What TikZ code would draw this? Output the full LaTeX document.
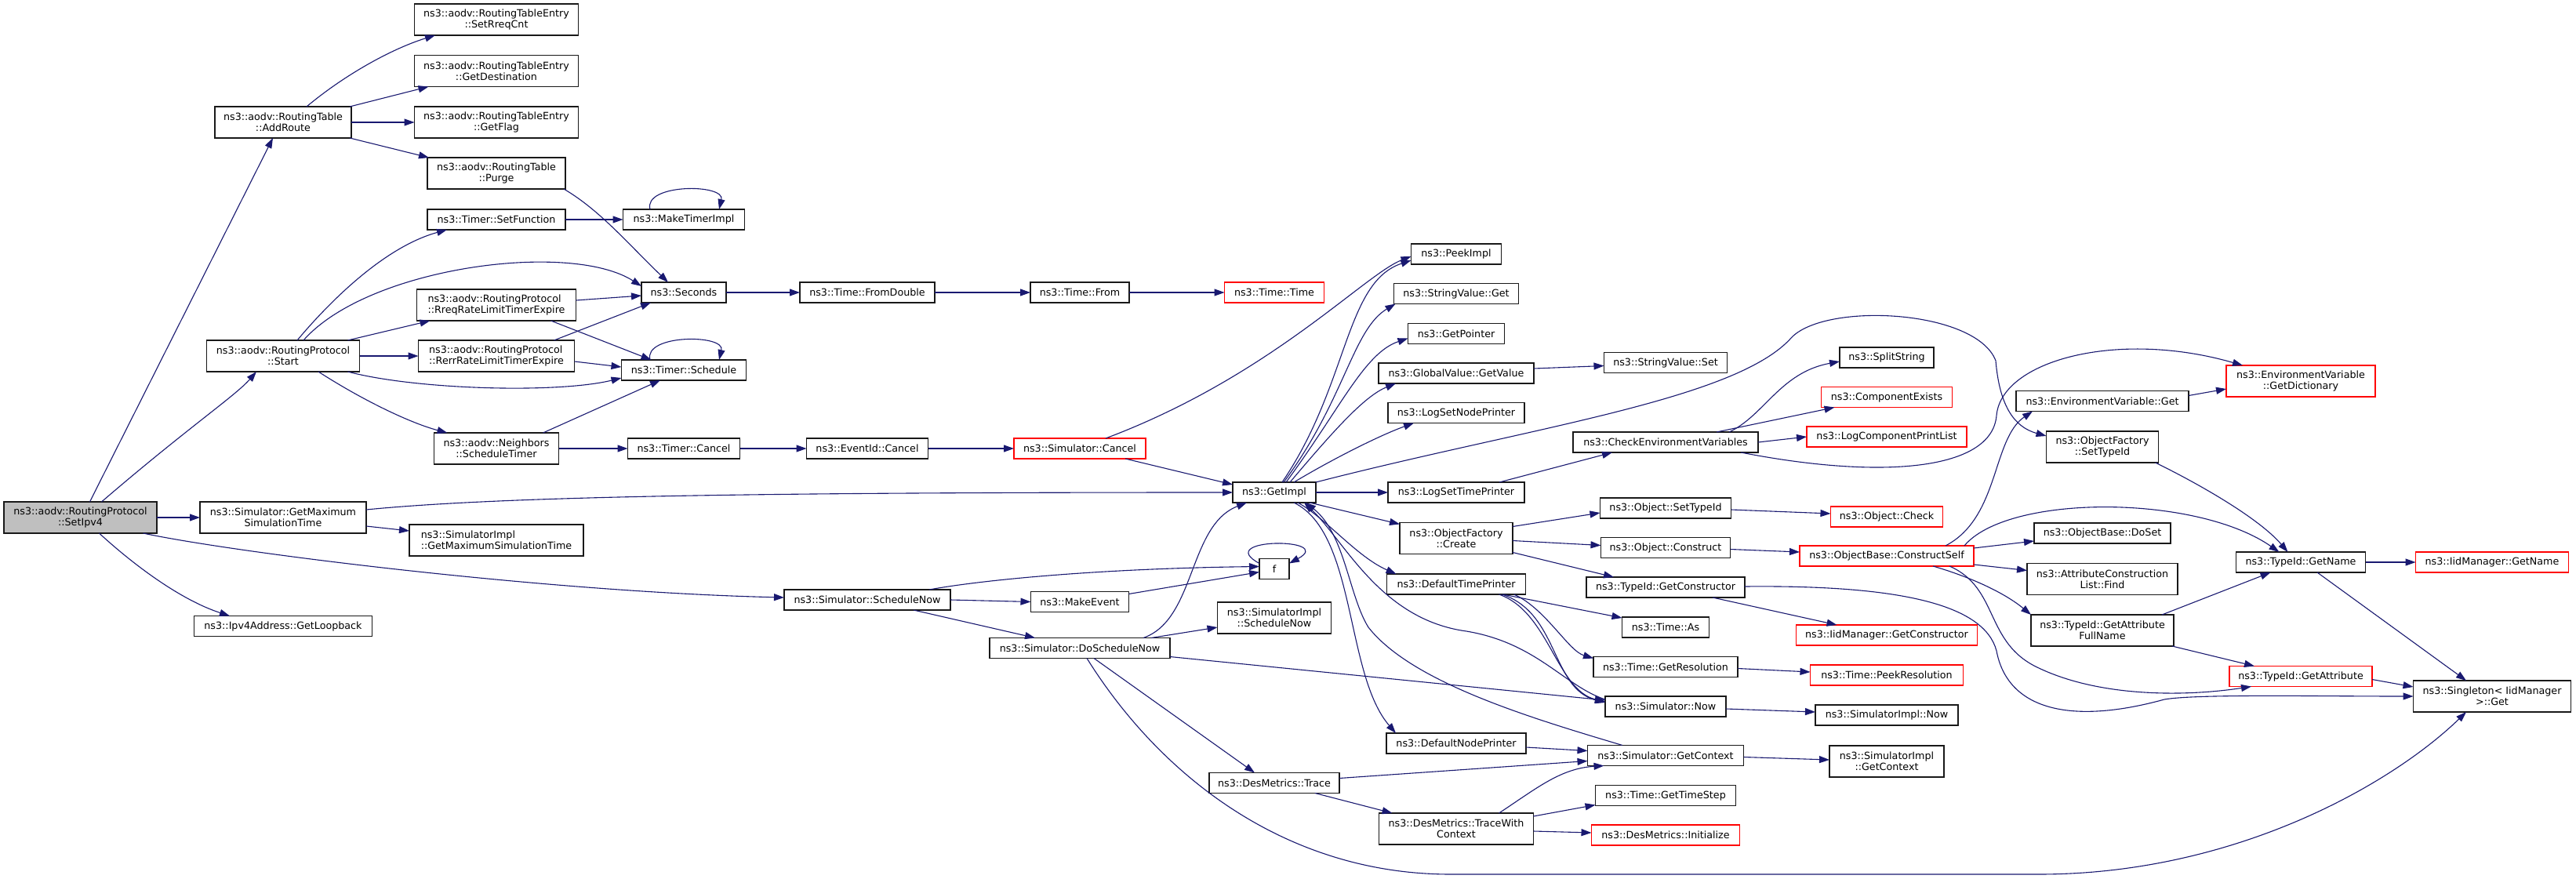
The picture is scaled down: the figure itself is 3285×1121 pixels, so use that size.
\documentclass[tikz,border=0pt]{standalone}
\usepackage{fontspec}
\setmainfont{DejaVu Sans}
\usetikzlibrary{positioning,calc,arrows.meta}
\definecolor{edgeblue}{HTML}{191970}
\definecolor{nodegray}{HTML}{BFBFBF}

\begin{document}
\begin{tikzpicture}[x=1pt,y=-1pt,
  fn/.style = {shape=rectangle, draw=black!90, fill=white, line width=1.5pt,
    align=center, inner xsep=4pt, inner ysep=2pt, outer sep=0pt,
    minimum height=26pt, font=\fontsize{12.7}{14.3}\selectfont},
  two/.style = {minimum height=40pt},
  miss/.style = {fn, draw=red},
  cur/.style = {fn, fill=nodegray},
  call/.style = {draw=edgeblue, line width=1.1pt, -{Triangle[length=13pt,width=9pt]}}
  ]
  \useasboundingbox (0,0) rectangle (3285,1121);

  \node[cur, two, minimum width=195pt] (setipv4) at (102.5,660) {ns3::aodv::RoutingProtocol\\::SetIpv4};

  \node[fn, two, minimum width=174pt] (addroute) at (361,156) {ns3::aodv::RoutingTable\\::AddRoute};
  \node[fn, two, minimum width=195pt] (start) at (361,454) {ns3::aodv::RoutingProtocol\\::Start};
  \node[fn, two, minimum width=212pt] (gmst) at (361,660) {ns3::Simulator::GetMaximum\\SimulationTime};
  \node[fn, minimum width=227pt] (loopback) at (361,798.5) {ns3::Ipv4Address::GetLoopback};

  \node[fn, two, minimum width=209pt] (setrreq) at (633,25) {ns3::aodv::RoutingTableEntry\\::SetRreqCnt};
  \node[fn, two, minimum width=209pt] (getdest) at (633,90.5) {ns3::aodv::RoutingTableEntry\\::GetDestination};
  \node[fn, two, minimum width=209pt] (getflag) at (633,156) {ns3::aodv::RoutingTableEntry\\::GetFlag};
  \node[fn, two, minimum width=176pt] (purge) at (633,221) {ns3::aodv::RoutingTable\\::Purge};
  \node[fn, minimum width=176pt] (setfunc) at (633,280) {ns3::Timer::SetFunction};
  \node[fn, two, align=left, minimum width=203pt] (rreq) at (633,389) {ns3::aodv::RoutingProtocol\\::RreqRateLimitTimerExpire};
  \node[fn, two, align=left, minimum width=199pt] (rerr) at (633,454) {ns3::aodv::RoutingProtocol\\::RerrRateLimitTimerExpire};
  \node[fn, two, minimum width=159pt] (schedtimer) at (633,572) {ns3::aodv::Neighbors\\::ScheduleTimer};
  \node[fn, two, align=left, minimum width=222pt] (implgmst) at (633,689) {ns3::SimulatorImpl\\::GetMaximumSimulationTime};

  \node[fn, minimum width=155pt] (maketimer) at (872,280) {ns3::MakeTimerImpl};
  \node[fn, minimum width=108pt] (seconds) at (872,373) {ns3::Seconds};
  \node[fn, minimum width=159pt] (schedule) at (872,472) {ns3::Timer::Schedule};
  \node[fn, minimum width=143pt] (timercancel) at (872,572) {ns3::Timer::Cancel};

  \node[fn, minimum width=172pt] (fromdouble) at (1106,373) {ns3::Time::FromDouble};
  \node[fn, minimum width=155pt] (eventcancel) at (1106,572) {ns3::EventId::Cancel};
  \node[fn, minimum width=212pt] (schednow) at (1106,765) {ns3::Simulator::ScheduleNow};

  \node[fn, minimum width=126pt] (timefrom) at (1377,373) {ns3::Time::From};
  \node[miss, minimum width=168pt] (simcancel) at (1377,572) {ns3::Simulator::Cancel};
  \node[fn, minimum width=125pt] (makeevent) at (1377,767.5) {ns3::MakeEvent};
  \node[fn, minimum width=230pt] (doschednow) at (1377,826.5) {ns3::Simulator::DoScheduleNow};

  \node[miss, minimum width=127pt] (timetime) at (1625,373) {ns3::Time::Time};
  \node[fn, minimum width=106pt] (getimpl) at (1625,628) {ns3::GetImpl};
  \node[fn, minimum width=38pt] (f) at (1625,725.5) {f};
  \node[fn, two, minimum width=145pt] (implschednow) at (1625,788) {ns3::SimulatorImpl\\::ScheduleNow};
  \node[fn, minimum width=166pt] (trace) at (1625,998.5) {ns3::DesMetrics::Trace};

  \node[fn, minimum width=115pt] (peekimpl) at (1857,324) {ns3::PeekImpl};
  \node[fn, minimum width=159pt] (svget) at (1857,374.5) {ns3::StringValue::Get};
  \node[fn, minimum width=123pt] (getpointer) at (1857,425.5) {ns3::GetPointer};
  \node[fn, minimum width=198pt] (gvgetvalue) at (1857,476) {ns3::GlobalValue::GetValue};
  \node[fn, minimum width=174pt] (setnodepr) at (1857,526.5) {ns3::LogSetNodePrinter};
  \node[fn, minimum width=174pt] (settimepr) at (1857,628) {ns3::LogSetTimePrinter};
  \node[fn, two, minimum width=144pt] (ofcreate) at (1857,686.5) {ns3::ObjectFactory\\::Create};
  \node[fn, minimum width=177pt] (deftimepr) at (1857,745) {ns3::DefaultTimePrinter};
  \node[fn, minimum width=178pt] (defnodepr) at (1857,948) {ns3::DefaultNodePrinter};
  \node[fn, two, minimum width=197pt] (tracectx) at (1857,1057) {ns3::DesMetrics::TraceWith\\Context};

  \node[fn, minimum width=157pt] (svset) at (2124,462.5) {ns3::StringValue::Set};
  \node[fn, minimum width=236pt] (checkenv) at (2124,564) {ns3::CheckEnvironmentVariables};
  \node[fn, minimum width=167pt] (objsettid) at (2124,648) {ns3::Object::SetTypeId};
  \node[fn, minimum width=165pt] (objconstruct) at (2124,698.5) {ns3::Object::Construct};
  \node[fn, minimum width=202pt] (getctor) at (2124,749) {ns3::TypeId::GetConstructor};
  \node[fn, minimum width=111pt] (timeas) at (2124,800) {ns3::Time::As};
  \node[fn, minimum width=184pt] (getres) at (2124,850.5) {ns3::Time::GetResolution};
  \node[fn, minimum width=154pt] (simnow) at (2124,901) {ns3::Simulator::Now};
  \node[fn, minimum width=199pt] (simgetctx) at (2124,963.5) {ns3::Simulator::GetContext};
  \node[fn, minimum width=179pt] (timestep) at (2124,1014.5) {ns3::Time::GetTimeStep};
  \node[miss, minimum width=189pt] (dminit) at (2124,1065) {ns3::DesMetrics::Initialize};

  \node[fn, minimum width=120pt] (splitstr) at (2406,456) {ns3::SplitString};
  \node[miss, minimum width=167pt] (compexists) at (2406,506.5) {ns3::ComponentExists};
  \node[miss, minimum width=204pt] (logcomplist) at (2406,557) {ns3::LogComponentPrintList};
  \node[miss, minimum width=143pt] (objcheck) at (2406,659) {ns3::Object::Check};
  \node[miss, minimum width=222pt] (constructself) at (2406,709) {ns3::ObjectBase::ConstructSelf};
  \node[miss, minimum width=231pt] (iidgetctor) at (2406,810) {ns3::IidManager::GetConstructor};
  \node[miss, minimum width=195pt] (peekres) at (2406,861) {ns3::Time::PeekResolution};
  \node[fn, minimum width=182pt] (implnow) at (2406,912) {ns3::SimulatorImpl::Now};
  \node[fn, two, minimum width=146pt] (implgetctx) at (2406,971) {ns3::SimulatorImpl\\::GetContext};

  \node[fn, minimum width=220pt] (envget) at (2681,511.5) {ns3::EnvironmentVariable::Get};
  \node[fn, two, minimum width=143pt] (ofsettid) at (2681,570) {ns3::ObjectFactory\\::SetTypeId};
  \node[fn, minimum width=174pt] (doset) at (2681,680) {ns3::ObjectBase::DoSet};
  \node[fn, two, minimum width=192pt] (attrfind) at (2681,738.5) {ns3::AttributeConstruction\\List::Find};
  \node[fn, two, minimum width=182pt] (attrfull) at (2681,804) {ns3::TypeId::GetAttribute\\FullName};

  \node[miss, two, minimum width=190pt] (getdict) at (2934,486) {ns3::EnvironmentVariable\\::GetDictionary};
  \node[fn, minimum width=165pt] (tidgetname) at (2934,717) {ns3::TypeId::GetName};
  \node[miss, minimum width=182pt] (getattr) at (2934,862.5) {ns3::TypeId::GetAttribute};

  \node[miss, minimum width=195pt] (iidgetname) at (3178,717) {ns3::IidManager::GetName};
  \node[fn, two, minimum width=201pt] (singleton) at (3178,888) {ns3::Singleton< IidManager\\>::Get};

  \draw[call] ($(setipv4.north)+(12,0)$) -- ($(addroute.south)+(-13,0)$);
  \draw[call] ($(setipv4.north)+(27,0)$) .. controls (240,545) and (300,505) .. ($(start.south)+(-34,0)$);
  \draw[call] (setipv4.east) -- (gmst.west);
  \draw[call] ($(setipv4.south)+(80,0)$) .. controls (300,705) and (700,755) .. ($(schednow.west)+(0,-3)$);
  \draw[call] ($(setipv4.south)+(24,0)$) .. controls (170,720) and (230,765) .. ($(loopback.north)+(-68,0)$);

  \draw[call] ($(addroute.north)+(30,0)$) .. controls (440,95) and (500,62) .. ($(setrreq.south)+(-78,0)$);
  \draw[call] ($(addroute.north east)+(-2,0)$) -- ($(getdest.south west)+(18,0)$);
  \draw[call] (addroute.east) -- (getflag.west);
  \draw[call] ($(addroute.south east)+(-2,0)$) -- ($(purge.north west)+(2,0)$);
  \draw[call] ($(purge.south east)+(-2,0)$) .. controls (765,268) and (800,310) .. ($(seconds.north)+(-20,0)$);
  \draw[call] (setfunc.east) -- (maketimer.west);
  \draw[call] ($(maketimer.north)+(-43,0)$) .. controls +(-9,-33) and +(8,-33) .. ($(maketimer.north)+(45,0)$);

  \draw[call] ($(start.north)+(18,0)$) .. controls (420,385) and (490,315) .. ($(setfunc.south west)+(25,0)$);
  \draw[call] ($(start.north)+(26,0)$) .. controls (470,340) and (728,307) .. ($(seconds.west)+(0,-8)$);
  \draw[call] ($(start.north east)+(-15,0)$) -- ($(rreq.south west)+(17,0)$);
  \draw[call] (start.east) -- (rerr.west);
  \draw[call] ($(start.south east)+(-15,0)$) .. controls (530,497) and (711,502) .. ($(schedule.west)+(0,10)$);
  \draw[call] ($(start.south)+(45,0)$) .. controls (465,512) and (525,540) .. ($(schedtimer.north west)+(17,0)$);
  \draw[call] ($(rreq.east)+(0,-6)$) -- ($(seconds.west)+(0,4)$);
  \draw[call] ($(rreq.south east)+(-32,0)$) -- ($(schedule.north west)+(38,0)$);
  \draw[call] ($(rerr.north east)+(-26,0)$) -- ($(seconds.south west)+(12,0)$);
  \draw[call] ($(rerr.east)+(0,7)$) -- ($(schedule.west)+(0,-4)$);
  \draw[call] ($(schedtimer.north east)+(-20,0)$) -- ($(schedule.south)+(-30,0)$);
  \draw[call] (schedtimer.east) -- (timercancel.west);
  \draw[call] ($(schedule.north)+(-43,0)$) .. controls +(-9,-33) and +(8,-33) .. ($(schedule.north)+(45,0)$);

  \draw[call] (seconds.east) -- (fromdouble.west);
  \draw[call] (fromdouble.east) -- (timefrom.west);
  \draw[call] (timefrom.east) -- (timetime.west);
  \draw[call] (timercancel.east) -- (eventcancel.west);
  \draw[call] (eventcancel.east) -- (simcancel.west);
  \draw[call] ($(simcancel.north)+(33,0)$) .. controls (1620,480) and (1740,350) .. ($(peekimpl.west)+(0,3)$);
  \draw[call] ($(simcancel.south east)+(-26,0)$) -- ($(getimpl.west)+(0,-10)$);
  \draw[call] ($(gmst.east)+(0,-10)$) .. controls (650,632) and (1000,628) .. (getimpl.west);
  \draw[call] ($(gmst.east)+(0,11)$) -- ($(implgmst.west)+(0,-12)$);

  \draw[call] ($(schednow.north)+(79,0)$) .. controls (1250,740) and (1400,725) .. ($(f.west)+(0,-3)$);
  \draw[call] (schednow.east) -- (makeevent.west);
  \draw[call] ($(schednow.south east)+(-47,0)$) -- ($(doschednow.north west)+(58,0)$);
  \draw[call] ($(makeevent.north east)+(0,3)$) -- ($(f.west)+(0,4)$);
  \draw[call] ($(f.west)+(0,-7)$) .. controls +(-61,-33) and +(61,-33) .. ($(f.east)+(0,-7)$);
  \draw[call] ($(doschednow.north east)+(-34,0)$) .. controls (1525,790) and (1515,670) .. ($(getimpl.south west)+(18,0)$);
  \draw[call] ($(doschednow.north east)+(-24,0)$) -- ($(implschednow.west)+(0,12)$);
  \draw[call] ($(doschednow.east)+(0,11)$) -- ($(simnow.west)+(0,-8)$);
  \draw[call] ($(doschednow.south)+(18,0)$) -- ($(trace.north)+(-25,0)$);
  \draw[call] ($(doschednow.south)+(9,0)$) .. controls (1480,990) and (1640,1115) .. (1850,1115)
    -- (2600,1115) .. controls (2850,1115) and (3050,1000) .. ($(singleton.south)+(-33,0)$);

  \draw[call] ($(getimpl.north)+(10,0)$) .. controls (1720,490) and (1715,360) .. ($(peekimpl.west)+(0,8)$);
  \draw[call] ($(getimpl.north)+(12,0)$) .. controls (1715,510) and (1725,420) .. ($(svget.south west)+(2,0)$);
  \draw[call] ($(getimpl.north)+(15,0)$) .. controls (1710,520) and (1740,450) .. ($(getpointer.west)+(0,6)$);
  \draw[call] ($(getimpl.north)+(20,0)$) .. controls (1700,550) and (1740,505) .. ($(gvgetvalue.south west)+(22,0)$);
  \draw[call] ($(getimpl.north)+(25,0)$) .. controls (1700,585) and (1760,555) .. ($(setnodepr.south west)+(33,0)$);
  \draw[call] (getimpl.north east) .. controls (1950,545) and (2215,510) .. (2285,430)
    .. controls (2330,385) and (2520,395) .. (2545,460)
    .. controls (2550,520) and (2570,545) .. ($(ofsettid.west)+(0,-14)$);
  \draw[call] (getimpl.east) -- (settimepr.west);
  \draw[call] ($(getimpl.south east)+(-8,0)$) -- ($(ofcreate.west)+(0,-18)$);
  \draw[call] ($(getimpl.south)+(30,0)$) .. controls (1690,660) and (1730,710) .. ($(deftimepr.north west)+(12,0)$);
  \draw[call] ($(getimpl.south)+(25,0)$) .. controls (1730,680) and (1715,860) .. ($(defnodepr.north west)+(12,0)$);
  \draw[call] ($(simnow.west)+(0,-9)$) .. controls (1995,875) and (1960,820) .. (1870,805)
    .. controls (1760,790) and (1715,690) .. ($(getimpl.south)+(38,0)$);
  \draw[call] ($(simgetctx.north)+(-55,0)$) .. controls (1950,915) and (1800,870) .. (1745,800)
    .. controls (1720,760) and (1715,680) .. ($(getimpl.south)+(40,0)$);

  \draw[call] ($(deftimepr.south east)+(-29,0)$) -- ($(timeas.west)+(0,-12)$);
  \draw[call] ($(deftimepr.south east)+(-15,0)$) .. controls (1970,775) and (2000,830) .. ($(getres.north west)+(0,2)$);
  \draw[call] ($(deftimepr.south east)+(-34,0)$) .. controls (1975,780) and (1985,880) .. ($(simnow.west)+(0,-6)$);
  \draw[call] ($(deftimepr.south east)+(-30,0)$) .. controls (1988,782) and (1978,878) .. ($(simnow.west)+(0,-5)$);
  \draw[call] ($(ofcreate.east)+(0,-15)$) -- ($(objsettid.west)+(0,6)$);
  \draw[call] ($(ofcreate.east)+(0,3)$) -- ($(objconstruct.west)+(0,-3)$);
  \draw[call] ($(ofcreate.south east)+(0,-2)$) -- ($(getctor.north west)+(35,0)$);
  \draw[call] ($(gvgetvalue.east)+(0,-6)$) -- ($(svset.west)+(0,4)$);
  \draw[call] ($(settimepr.north east)+(-32,0)$) -- ($(checkenv.south west)+(50,0)$);
  \draw[call] ($(defnodepr.east)+(0,5)$) -- ($(simgetctx.west)+(0,-6)$);
  \draw[call] ($(trace.east)+(0,-6)$) -- ($(simgetctx.west)+(0,7)$);
  \draw[call] ($(trace.south east)+(-31,0)$) -- ($(tracectx.north west)+(17,0)$);
  \draw[call] ($(tracectx.north east)+(-44,0)$) .. controls (1960,1005) and (1990,980) .. ($(simgetctx.south west)+(21,0)$);
  \draw[call] ($(tracectx.east)+(0,-16)$) -- ($(timestep.south west)+(0,-1)$);
  \draw[call] ($(tracectx.east)+(0,3)$) -- ($(dminit.west)+(0,-3)$);

  \draw[call] ($(checkenv.north east)+(-37,0)$) .. controls (2250,530) and (2270,475) .. ($(splitstr.west)+(0,5)$);
  \draw[call] ($(checkenv.north east)+(-53,0)$) -- ($(compexists.south west)+(17,0)$);
  \draw[call] (checkenv.east) -- (logcomplist.west);
  \draw[call] ($(checkenv.south east)+(-22,0)$) .. controls (2400,612) and (2540,600) .. (2546,530)
    .. controls (2552,460) and (2700,420) .. ($(getdict.north west)+(21,0)$);
  \draw[call] ($(objsettid.east)+(0,2)$) -- ($(objcheck.west)+(0,-4)$);
  \draw[call] ($(objconstruct.east)+(0,2)$) -- ($(constructself.west)+(0,-5)$);
  \draw[call] ($(getctor.south east)+(-41,0)$) -- ($(iidgetctor.north west)+(52,0)$);
  \draw[call] ($(getctor.east)+(0,-1)$) .. controls (2420,746) and (2530,770) .. (2546,830)
    .. controls (2560,905) and (2640,925) .. (2760,892)
    .. controls (2800,885) and (2950,888) .. (singleton.west);
  \draw[call] ($(getres.east)+(0,2)$) -- ($(peekres.west)+(0,-4)$);
  \draw[call] ($(simnow.east)+(0,3)$) -- ($(implnow.west)+(0,-4)$);
  \draw[call] ($(simgetctx.east)+(0,2)$) -- ($(implgetctx.west)+(0,-2)$);

  \draw[call] ($(envget.east)+(0,-7)$) -- ($(getdict.west)+(0,10)$);
  \draw[call] ($(constructself.north east)+(-36,0)$) .. controls (2550,660) and (2540,560) .. ($(envget.south west)+(21,0)$);
  \draw[call] ($(constructself.north east)+(-12,0)$) .. controls (2560,630) and (2800,630) .. ($(tidgetname.north west)+(55,0)$);
  \draw[call] ($(ofsettid.south east)+(-4,0)$) .. controls (2800,615) and (2880,660) .. ($(tidgetname.north west)+(66,0)$);
  \draw[call] ($(constructself.east)+(0,-10)$) -- ($(doset.west)+(0,10)$);
  \draw[call] ($(constructself.east)+(0,11)$) -- ($(attrfind.west)+(0,-11)$);
  \draw[call] ($(constructself.south)+(59,0)$) .. controls (2510,735) and (2555,755) .. (attrfull.north west);
  \draw[call] ($(constructself.south)+(80,0)$) .. controls (2550,750) and (2530,820) .. (2600,852)
    .. controls (2680,890) and (2790,888) .. ($(getattr.south west)+(28,0)$);
  \draw[call] ($(attrfull.north east)+(-15,0)$) -- ($(tidgetname.south west)+(44,0)$);
  \draw[call] ($(attrfull.south east)+(-2,0)$) -- ($(getattr.north west)+(32,0)$);
  \draw[call] (tidgetname.east) -- (iidgetname.west);
  \draw[call] ($(tidgetname.south)+(21,0)$) -- ($(singleton.north)+(-33,0)$);
  \draw[call] ($(getattr.east)+(0,4)$) -- ($(singleton.west)+(0,-12)$);
\end{tikzpicture}
\end{document}
